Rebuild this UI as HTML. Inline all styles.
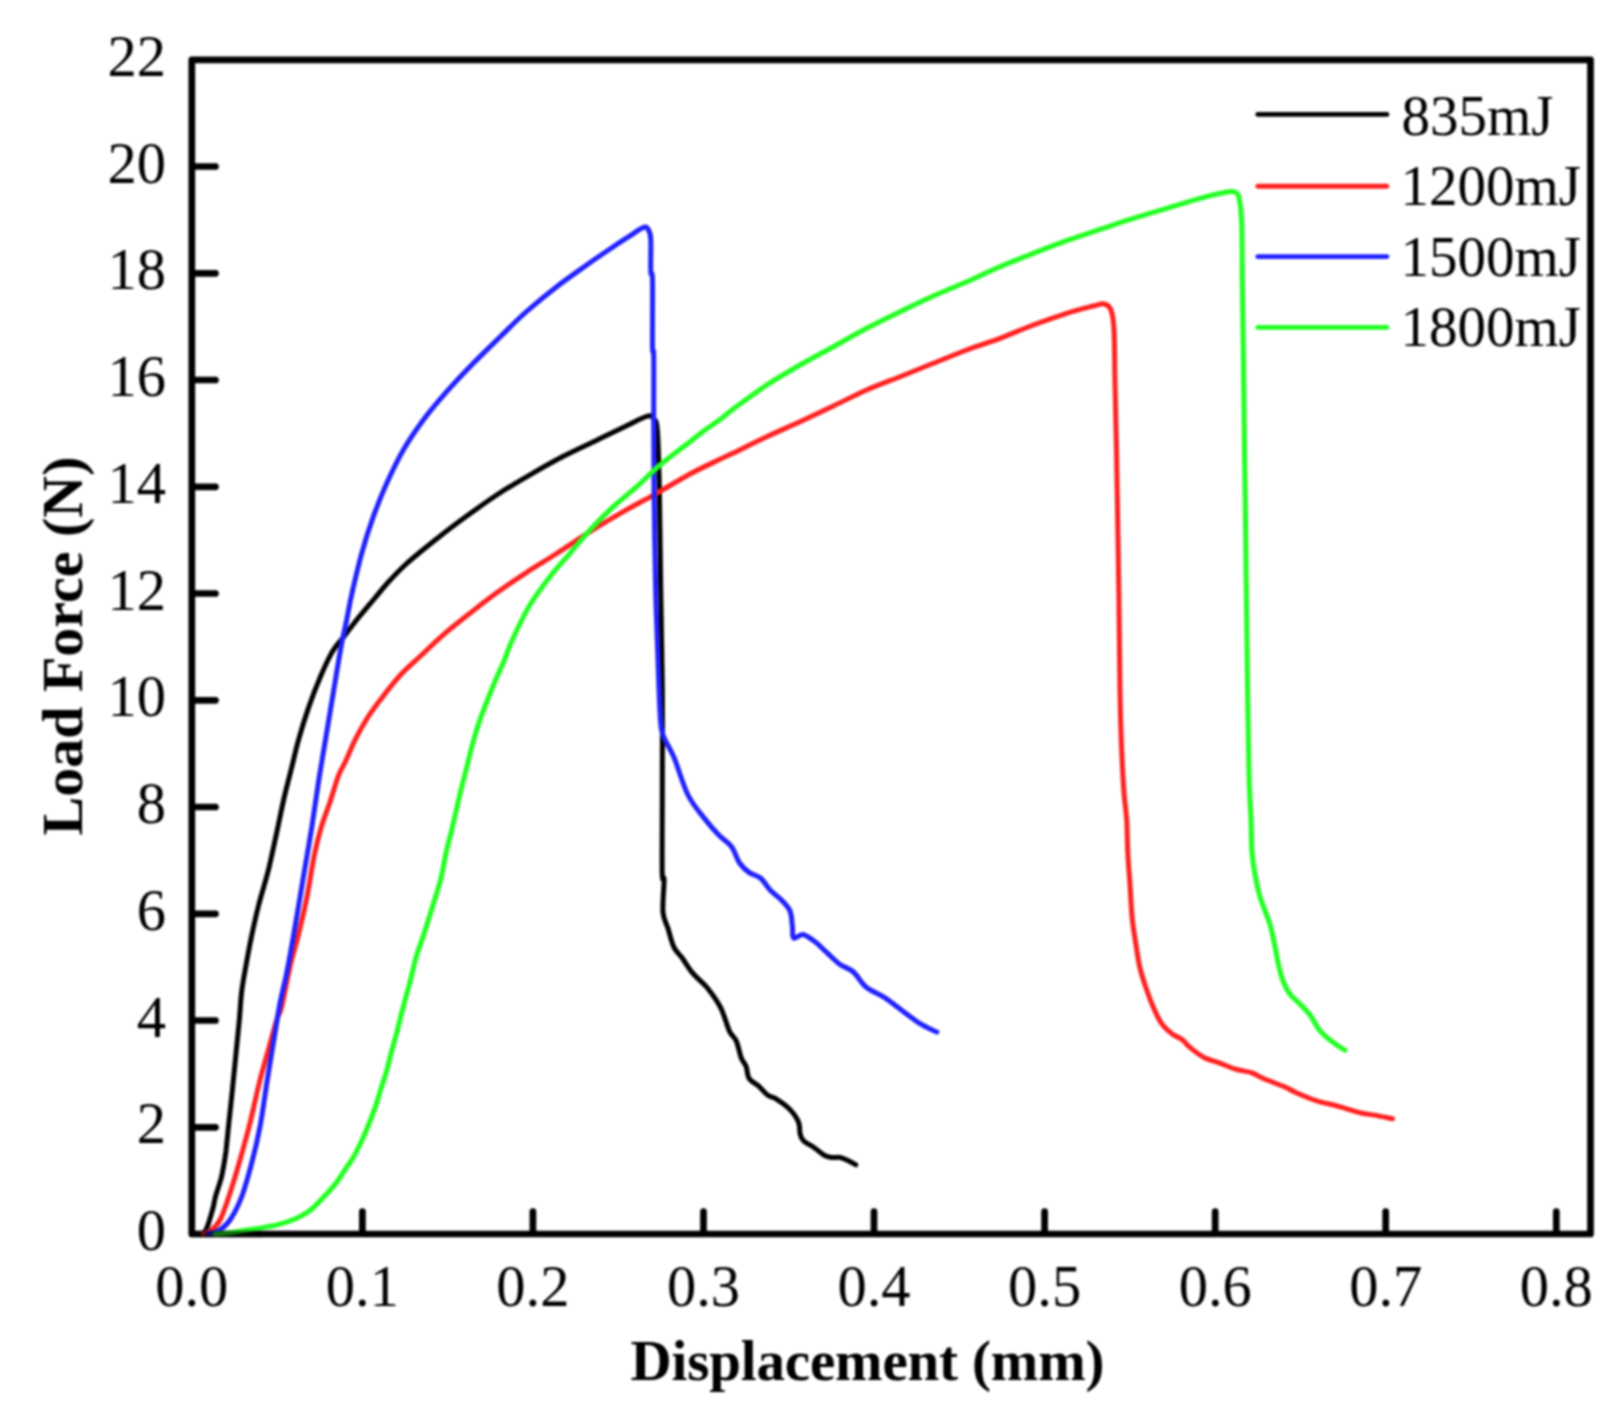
<!DOCTYPE html>
<html lang="en">
<head>
<meta charset="utf-8">
<title>Load Force vs Displacement</title>
<style>
html,body{margin:0;padding:0;background:#fff;}
body{width:1620px;height:1413px;overflow:hidden;}
svg{display:block;filter:blur(1.1px);}
</style>
</head>
<body>
<svg width="1620" height="1413" viewBox="0 0 1620 1413">
<rect width="1620" height="1413" fill="#fff"/>
<g stroke="#000" stroke-width="6.7" fill="none" stroke-linecap="round" stroke-linejoin="round">
<rect x="191.8" y="59.8" width="1398.7" height="1174.2"/>
<line x1="362.4" y1="1232.5" x2="362.4" y2="1211.5"/>
<line x1="532.9" y1="1232.5" x2="532.9" y2="1211.5"/>
<line x1="703.5" y1="1232.5" x2="703.5" y2="1211.5"/>
<line x1="874.0" y1="1232.5" x2="874.0" y2="1211.5"/>
<line x1="1044.6" y1="1232.5" x2="1044.6" y2="1211.5"/>
<line x1="1215.2" y1="1232.5" x2="1215.2" y2="1211.5"/>
<line x1="1385.7" y1="1232.5" x2="1385.7" y2="1211.5"/>
<line x1="1556.3" y1="1232.5" x2="1556.3" y2="1211.5"/>
<line x1="193.3" y1="1127.3" x2="215.5" y2="1127.3"/>
<line x1="193.3" y1="1020.5" x2="215.5" y2="1020.5"/>
<line x1="193.3" y1="913.8" x2="215.5" y2="913.8"/>
<line x1="193.3" y1="807.0" x2="215.5" y2="807.0"/>
<line x1="193.3" y1="700.3" x2="215.5" y2="700.3"/>
<line x1="193.3" y1="593.5" x2="215.5" y2="593.5"/>
<line x1="193.3" y1="486.8" x2="215.5" y2="486.8"/>
<line x1="193.3" y1="380.0" x2="215.5" y2="380.0"/>
<line x1="193.3" y1="273.3" x2="215.5" y2="273.3"/>
<line x1="193.3" y1="166.5" x2="215.5" y2="166.5"/>
</g>
<g fill="none" stroke-width="5.0" stroke-linecap="round" stroke-linejoin="round">
<path stroke="#000000" d="M203.0 1233.5C203.5 1232.8 205.1 1231.7 206.2 1229.4C207.3 1227.1 208.5 1223.1 209.7 1219.5C210.8 1215.9 212.2 1211.2 213.1 1207.7C214.0 1204.2 214.2 1201.7 215.0 1198.5C215.8 1195.3 216.9 1192.1 218.0 1188.5C219.1 1184.9 220.5 1181.1 221.5 1177.0C222.5 1172.9 223.2 1168.5 224.0 1164.0C224.8 1159.5 225.3 1156.5 226.1 1150.2C226.8 1143.9 227.5 1135.8 228.5 1126.2C229.5 1116.6 230.9 1104.1 232.1 1092.5C233.3 1080.9 234.5 1068.4 235.7 1056.4C236.9 1044.4 238.3 1031.1 239.3 1020.3C240.3 1009.5 240.5 1001.0 241.7 991.4C242.9 981.8 244.7 972.6 246.5 962.6C248.3 952.6 250.5 941.0 252.6 931.3C254.7 921.6 256.2 914.8 258.8 904.5C261.4 894.2 265.5 881.9 268.5 869.7C271.5 857.5 274.4 843.2 277.0 831.2C279.6 819.2 281.8 807.8 284.2 797.4C286.6 787.0 289.0 778.2 291.4 768.6C293.8 759.0 295.8 749.7 298.6 739.7C301.4 729.7 304.7 718.9 308.3 708.4C311.9 697.9 316.3 686.4 320.3 677.0C324.3 667.6 328.3 658.6 332.3 651.8C336.3 645.0 340.6 641.1 344.4 636.1C348.2 631.1 350.2 628.0 355.2 621.7C360.2 615.4 368.7 605.4 374.5 598.5C380.3 591.6 384.6 586.1 390.0 580.3C395.4 574.5 399.5 570.0 406.7 563.5C413.9 557.0 423.9 549.0 433.3 541.5C442.7 534.0 452.7 526.2 463.3 518.5C473.9 510.8 485.6 502.3 496.7 495.0C507.8 487.7 518.9 481.2 530.0 474.8C541.1 468.4 552.2 462.1 563.3 456.3C574.4 450.5 586.1 445.3 596.7 440.2C607.3 435.1 618.4 429.7 626.7 425.7C635.0 421.7 642.3 417.5 646.7 416.3C651.1 415.1 651.5 416.0 653.3 418.3C655.1 420.6 656.3 418.6 657.3 430.0C658.3 441.4 658.7 460.6 659.3 486.7C659.9 512.8 660.2 553.4 660.7 586.7C661.2 620.0 662.0 652.7 662.3 686.7C662.6 720.8 662.3 760.0 662.3 791.0C662.3 822.0 661.9 857.7 662.2 872.4C662.5 887.1 664.0 872.8 664.1 879.4C664.2 886.0 662.3 904.0 663.0 912.2C663.7 920.4 666.3 922.8 668.1 928.7C669.9 934.6 671.6 942.5 674.0 947.4C676.4 952.3 679.1 953.7 682.2 958.0C685.3 962.3 688.6 968.3 692.7 973.2C696.8 978.1 702.2 981.6 706.8 987.3C711.4 993.0 716.7 1000.1 720.5 1007.4C724.3 1014.7 726.8 1025.5 729.4 1031.1C732.0 1036.7 734.3 1036.5 736.3 1041.0C738.3 1045.5 739.6 1053.5 741.2 1057.8C742.9 1062.1 744.9 1063.2 746.2 1066.7C747.5 1070.2 747.0 1075.2 749.1 1078.5C751.2 1081.8 755.9 1083.6 759.0 1086.4C762.1 1089.2 764.9 1093.2 767.9 1095.3C770.9 1097.4 773.2 1097.0 776.8 1099.3C780.4 1101.6 786.0 1105.3 789.6 1109.1C793.2 1112.9 796.8 1117.9 798.5 1122.0C800.2 1126.1 799.3 1130.7 800.1 1133.8C800.9 1136.9 801.1 1138.4 803.5 1140.7C805.9 1143.0 810.8 1145.3 814.3 1147.7C817.8 1150.1 821.2 1153.6 824.2 1155.2C827.2 1156.8 829.5 1157.1 832.1 1157.5C834.7 1157.9 837.4 1157.0 840.0 1157.5C842.6 1158.0 845.3 1159.3 847.9 1160.5C850.5 1161.7 854.5 1164.1 855.8 1164.8"/>
<path stroke="#ff2020" d="M203.0 1233.5C204.2 1233.1 207.2 1233.2 210.0 1231.0C212.8 1228.8 216.7 1226.3 220.0 1220.0C223.3 1213.7 226.7 1203.0 230.0 1193.0C233.3 1183.0 236.7 1171.7 240.0 1160.0C243.3 1148.3 246.7 1136.3 250.0 1123.0C253.3 1109.7 256.9 1092.2 260.0 1080.0C263.1 1067.8 265.5 1060.0 268.3 1050.0C271.1 1040.0 274.5 1027.2 276.7 1020.0C278.9 1012.8 279.5 1015.6 281.7 1006.7C283.9 997.8 287.2 978.8 290.0 966.7C292.8 954.6 295.8 945.8 298.6 934.0C301.5 922.2 304.5 909.3 307.1 896.2C309.7 883.1 311.9 866.9 314.3 855.2C316.7 843.6 318.9 835.1 321.5 826.3C324.1 817.5 327.1 810.7 329.9 802.3C332.7 793.9 335.8 782.6 338.4 775.8C341.0 769.0 342.8 767.3 345.6 761.3C348.4 755.3 351.6 746.9 355.2 739.7C358.8 732.5 363.3 724.4 367.3 718.0C371.3 711.6 373.9 708.2 379.3 701.1C384.8 694.0 393.2 682.9 400.0 675.5C406.8 668.1 412.8 663.3 420.0 656.5C427.2 649.7 435.0 642.0 443.3 634.8C451.6 627.6 461.1 620.2 470.0 613.2C478.9 606.2 487.2 599.6 496.7 592.8C506.1 586.0 516.7 578.8 526.7 572.3C536.7 565.8 546.2 560.3 556.7 553.5C567.2 546.7 578.9 538.7 590.0 531.7C601.1 524.7 612.2 518.1 623.3 511.7C634.4 505.3 645.6 499.6 656.7 493.3C667.8 487.0 679.5 479.7 690.0 474.0C700.5 468.3 712.8 462.8 720.0 459.3C727.2 455.8 725.5 456.8 733.3 453.0C741.1 449.2 755.6 441.9 766.7 436.7C777.8 431.5 788.9 426.8 800.0 421.7C811.1 416.6 822.2 411.3 833.3 406.0C844.4 400.7 855.6 394.9 866.7 390.0C877.8 385.1 888.9 381.1 900.0 376.7C911.1 372.2 922.2 367.8 933.3 363.3C944.4 358.9 955.6 354.2 966.7 350.0C977.8 345.8 988.9 342.5 1000.0 338.3C1011.1 334.1 1022.2 329.2 1033.3 325.0C1044.4 320.8 1056.7 316.5 1066.7 313.3C1076.7 310.1 1087.1 307.6 1093.3 306.0C1099.5 304.4 1101.0 303.3 1104.0 304.0C1107.0 304.7 1109.3 305.7 1111.0 310.0C1112.7 314.3 1113.3 317.8 1114.0 330.0C1114.7 342.2 1114.6 363.3 1115.0 383.3C1115.4 403.3 1116.0 427.1 1116.5 450.0C1117.0 472.9 1117.3 496.6 1117.7 521.0C1118.1 545.4 1118.5 567.6 1118.9 596.2C1119.3 624.8 1119.6 668.4 1120.0 692.5C1120.4 716.6 1120.7 724.6 1121.3 740.6C1121.9 756.6 1122.8 775.5 1123.7 788.7C1124.6 801.9 1126.0 809.4 1126.7 820.0C1127.4 830.6 1127.2 841.6 1127.8 852.4C1128.3 863.2 1129.3 874.0 1130.0 884.8C1130.7 895.6 1131.2 907.8 1132.1 917.2C1133.0 926.6 1134.1 932.7 1135.4 941.0C1136.7 949.3 1137.9 959.0 1139.7 966.9C1141.5 974.8 1144.0 982.0 1146.2 988.5C1148.4 995.0 1150.2 1000.0 1152.7 1005.8C1155.2 1011.6 1158.1 1018.4 1161.3 1023.1C1164.5 1027.8 1168.7 1031.2 1172.1 1033.9C1175.5 1036.6 1178.7 1037.0 1181.8 1039.3C1184.9 1041.6 1186.7 1044.8 1190.5 1047.9C1194.3 1051.0 1199.7 1055.2 1204.5 1057.7C1209.3 1060.2 1214.2 1061.1 1219.6 1063.1C1225.0 1065.1 1231.5 1067.9 1236.9 1069.5C1242.3 1071.1 1247.7 1071.3 1252.0 1072.8C1256.3 1074.2 1257.4 1075.9 1262.8 1078.2C1268.2 1080.5 1279.0 1084.5 1284.4 1086.8C1289.8 1089.1 1289.8 1089.8 1295.2 1092.2C1300.6 1094.6 1309.7 1098.6 1316.9 1100.9C1324.1 1103.2 1331.3 1104.3 1338.5 1106.3C1345.7 1108.3 1353.6 1111.2 1360.1 1112.7C1366.6 1114.2 1371.9 1114.6 1377.3 1115.6C1382.7 1116.6 1390.0 1118.3 1392.5 1118.8"/>
<path stroke="#2020ff" d="M208.0 1233.5C209.7 1233.1 214.3 1233.2 218.0 1231.0C221.7 1228.8 226.1 1225.7 230.0 1220.0C233.9 1214.3 238.1 1206.2 241.7 1196.7C245.3 1187.2 248.6 1174.7 251.7 1163.0C254.8 1151.3 257.4 1140.5 260.0 1126.7C262.6 1112.9 264.8 1095.6 267.3 1080.0C269.8 1064.4 272.9 1045.8 275.0 1033.0C277.1 1020.2 278.1 1013.0 280.0 1003.0C281.9 993.0 284.4 984.5 286.7 973.0C289.0 961.5 291.0 950.0 293.8 934.0C296.6 918.0 300.4 894.9 303.4 876.9C306.4 858.9 309.3 842.8 311.9 826.3C314.5 809.8 316.7 793.5 319.1 778.2C321.5 763.0 323.9 749.2 326.3 734.8C328.7 720.3 331.1 705.9 333.5 691.5C335.9 677.1 338.6 660.2 340.8 648.2C343.0 636.2 345.0 628.3 346.8 619.3C348.6 610.3 349.3 605.0 351.8 594.0C354.3 583.0 358.1 566.2 361.7 553.3C365.3 540.4 369.1 528.4 373.3 516.7C377.5 505.0 381.7 494.4 386.7 483.3C391.7 472.2 397.2 460.6 403.3 450.0C409.4 439.4 416.1 429.7 423.3 420.0C430.5 410.3 438.4 401.1 446.7 391.7C455.0 382.2 464.4 372.4 473.3 363.3C482.2 354.2 491.2 345.6 500.0 337.0C508.8 328.4 516.5 320.4 526.0 312.0C535.5 303.6 546.6 294.5 556.7 286.7C566.8 278.9 577.3 271.7 586.7 265.0C596.1 258.3 606.1 251.6 613.3 246.7C620.5 241.8 625.5 238.7 630.0 235.8C634.5 232.9 637.4 230.7 640.0 229.2C642.6 227.7 644.3 226.6 645.8 227.0C647.3 227.4 648.4 229.5 649.2 231.7C650.0 233.9 650.5 233.3 650.8 240.0C651.1 246.7 650.5 265.0 650.8 271.7C651.1 278.4 652.2 267.5 652.5 280.0C652.8 292.5 652.3 334.2 652.5 346.7C652.7 359.2 653.5 343.6 653.7 355.0C653.9 366.4 653.7 393.1 653.7 415.0C653.8 436.9 653.7 458.1 654.0 486.7C654.3 515.3 655.0 558.9 655.6 586.7C656.2 614.5 657.1 632.4 657.8 653.3C658.5 674.2 659.2 698.5 660.0 712.0C660.8 725.5 660.3 726.4 662.6 734.0C664.9 741.6 669.8 747.2 674.0 757.4C678.2 767.6 682.9 784.8 688.0 795.0C693.1 805.2 699.3 811.8 704.4 818.4C709.5 825.0 714.0 830.1 718.5 834.8C723.0 839.5 727.9 841.9 731.4 846.6C734.9 851.3 736.7 858.7 739.6 863.0C742.5 867.3 745.5 869.9 749.0 872.4C752.5 874.9 757.2 875.3 760.7 878.2C764.2 881.1 766.6 886.3 770.1 890.0C773.6 893.7 778.6 897.0 781.9 900.5C785.2 904.0 788.2 906.7 790.0 911.0C791.8 915.3 791.8 921.8 792.4 926.3C793.0 930.8 791.8 936.6 793.6 938.0C795.4 939.4 799.5 933.9 803.0 934.5C806.5 935.1 810.8 938.7 814.7 941.6C818.6 944.5 822.3 948.4 826.4 952.1C830.5 955.8 834.8 960.6 839.3 963.9C843.8 967.2 848.9 968.1 853.4 972.0C857.9 975.9 861.0 983.0 866.3 987.3C871.6 991.6 879.0 993.9 885.1 997.9C891.2 1001.9 897.2 1007.0 903.2 1011.4C909.2 1015.8 915.4 1020.8 921.0 1024.2C926.6 1027.7 934.2 1030.8 936.8 1032.1"/>
<path stroke="#20ff20" d="M215.0 1234.0C217.8 1233.8 227.2 1233.1 232.0 1232.5C236.8 1231.9 238.7 1231.3 244.0 1230.5C249.3 1229.7 258.2 1228.4 264.0 1227.4C269.8 1226.4 273.9 1225.7 278.8 1224.4C283.7 1223.1 288.7 1221.6 293.6 1219.5C298.6 1217.4 303.7 1215.1 308.5 1211.6C313.3 1208.1 317.8 1203.2 322.3 1198.5C326.9 1193.8 332.0 1188.2 335.8 1183.4C339.6 1178.6 341.9 1174.3 344.9 1169.8C347.9 1165.3 351.2 1161.1 354.0 1156.2C356.8 1151.3 359.4 1145.7 361.9 1140.4C364.3 1135.1 366.4 1130.2 368.7 1124.5C371.0 1118.8 373.4 1112.4 375.5 1106.4C377.6 1100.4 379.2 1094.3 381.1 1088.3C383.0 1082.3 385.1 1076.2 386.8 1070.2C388.5 1064.2 389.6 1058.5 391.3 1052.1C393.0 1045.7 395.1 1038.9 397.0 1031.7C398.9 1024.5 400.5 1017.0 402.6 1009.1C404.7 1001.2 407.1 992.9 409.4 984.2C411.7 975.5 413.7 965.7 416.2 957.0C418.7 948.3 421.7 940.9 424.5 932.2C427.3 923.5 430.2 914.0 433.0 905.0C435.8 896.0 438.8 887.0 441.0 878.0C443.2 869.0 444.6 859.2 446.5 850.8C448.4 842.4 450.2 836.6 452.3 827.5C454.4 818.4 457.2 805.8 459.4 796.4C461.6 787.0 463.5 780.1 465.7 771.4C467.9 762.7 470.2 752.5 472.5 744.2C474.8 735.9 477.0 728.4 479.3 721.6C481.6 714.8 483.5 710.3 486.1 703.5C488.8 696.7 492.2 688.0 495.2 680.8C498.2 673.6 501.8 666.3 504.2 660.4C506.6 654.5 507.3 651.6 509.9 645.5C512.5 639.4 516.5 630.6 520.0 623.5C523.5 616.4 526.0 610.9 531.1 603.0C536.2 595.1 544.0 584.3 550.5 576.0C557.0 567.7 563.4 561.0 570.0 553.3C576.6 545.6 582.8 537.8 590.0 530.0C597.2 522.2 605.5 513.9 613.3 506.7C621.1 499.5 628.9 493.6 636.7 486.7C644.5 479.8 651.1 472.5 660.0 465.0C668.9 457.5 682.5 447.5 690.0 441.7C697.5 435.9 700.0 433.7 705.0 430.0C710.0 426.3 715.3 423.1 720.0 419.6C724.7 416.1 725.5 414.7 733.3 408.9C741.1 403.1 755.6 392.3 766.7 385.0C777.8 377.7 788.9 371.4 800.0 365.0C811.1 358.6 822.2 352.8 833.3 346.7C844.4 340.6 855.6 334.1 866.7 328.3C877.8 322.5 888.9 317.1 900.0 311.7C911.1 306.3 922.2 301.0 933.3 296.0C944.4 291.0 955.6 286.6 966.7 281.7C977.8 276.8 988.9 271.4 1000.0 266.7C1011.1 262.0 1022.2 257.6 1033.3 253.3C1044.4 249.0 1055.6 244.7 1066.7 240.7C1077.8 236.7 1088.9 233.0 1100.0 229.3C1111.1 225.6 1122.2 221.8 1133.3 218.3C1144.4 214.8 1155.6 211.6 1166.7 208.3C1177.8 205.0 1190.6 200.9 1200.0 198.3C1209.4 195.7 1217.8 193.8 1223.3 192.7C1228.8 191.6 1230.7 191.0 1233.3 191.7C1235.9 192.4 1237.4 191.7 1238.8 197.0C1240.2 202.3 1241.1 208.9 1241.7 223.3C1242.3 237.7 1242.0 262.2 1242.3 283.3C1242.6 304.4 1243.0 325.0 1243.3 350.0C1243.6 375.0 1244.0 408.3 1244.3 433.3C1244.6 458.3 1244.8 472.9 1245.2 500.0C1245.6 527.1 1246.0 564.1 1246.4 596.2C1246.8 628.3 1247.2 664.4 1247.6 692.5C1248.0 720.6 1248.4 746.6 1248.8 764.6C1249.2 782.6 1249.6 791.5 1250.0 800.7C1250.4 809.9 1250.7 811.4 1251.0 820.0C1251.3 828.6 1251.3 843.0 1252.0 852.4C1252.7 861.8 1254.0 869.0 1255.3 876.2C1256.6 883.4 1258.0 889.9 1259.6 895.6C1261.2 901.4 1263.2 905.7 1265.0 910.7C1266.8 915.8 1268.8 920.1 1270.4 925.9C1272.0 931.7 1273.3 938.5 1274.7 945.3C1276.1 952.1 1277.5 960.8 1279.0 966.9C1280.5 973.0 1281.6 977.5 1283.4 982.0C1285.2 986.5 1286.9 990.1 1289.8 993.9C1292.7 997.7 1297.2 1001.1 1300.6 1004.7C1304.0 1008.3 1307.3 1011.4 1310.4 1015.5C1313.5 1019.6 1316.1 1025.8 1319.0 1029.6C1321.9 1033.4 1324.8 1035.7 1327.7 1038.2C1330.6 1040.7 1333.4 1042.7 1336.3 1044.7C1339.2 1046.7 1343.5 1049.2 1344.9 1050.1"/>
</g>
<line x1="191.5" y1="1234.0" x2="262" y2="1234.0" stroke="#000" stroke-opacity="0.55" stroke-width="6.7"/>
<g stroke-width="4.9" fill="none" stroke-linecap="round">
<line x1="1257.8" y1="114.4" x2="1386.9" y2="114.4" stroke="#000000"/>
<line x1="1257.8" y1="186.3" x2="1386.9" y2="186.3" stroke="#ff2020"/>
<line x1="1257.8" y1="256.6" x2="1386.9" y2="256.6" stroke="#2020ff"/>
<line x1="1257.8" y1="327.4" x2="1386.9" y2="327.4" stroke="#20ff20"/>
</g>
<g font-family='"Liberation Serif", "Times New Roman", Times, serif' font-size="57" fill="#000">
<text x="1401.5" y="134.5">835mJ</text>
<text x="1400.5" y="205">1200mJ</text>
<text x="1400.5" y="276">1500mJ</text>
<text x="1400.5" y="346.4">1800mJ</text>
</g>
<g font-family='"Liberation Serif", "Times New Roman", Times, serif' font-size="58.5" fill="#000">
<text x="166" y="1250.0" text-anchor="end">0</text>
<text x="166" y="1143.3" text-anchor="end">2</text>
<text x="166" y="1036.5" text-anchor="end">4</text>
<text x="166" y="929.8" text-anchor="end">6</text>
<text x="166" y="823.0" text-anchor="end">8</text>
<text x="166" y="716.3" text-anchor="end">10</text>
<text x="166" y="609.5" text-anchor="end">12</text>
<text x="166" y="502.8" text-anchor="end">14</text>
<text x="166" y="396.0" text-anchor="end">16</text>
<text x="166" y="289.3" text-anchor="end">18</text>
<text x="166" y="182.5" text-anchor="end">20</text>
<text x="166" y="75.8" text-anchor="end">22</text>
<text x="191.8" y="1306" text-anchor="middle">0.0</text>
<text x="362.4" y="1306" text-anchor="middle">0.1</text>
<text x="532.9" y="1306" text-anchor="middle">0.2</text>
<text x="703.5" y="1306" text-anchor="middle">0.3</text>
<text x="874.0" y="1306" text-anchor="middle">0.4</text>
<text x="1044.6" y="1306" text-anchor="middle">0.5</text>
<text x="1215.2" y="1306" text-anchor="middle">0.6</text>
<text x="1385.7" y="1306" text-anchor="middle">0.7</text>
<text x="1556.3" y="1306" text-anchor="middle">0.8</text>
</g>
<g font-family='"Liberation Serif", "Times New Roman", Times, serif' font-size="57" font-weight="bold" fill="#000">
<text x="867.5" y="1380" text-anchor="middle" textLength="474" lengthAdjust="spacing">Displacement (mm)</text>
<text transform="translate(82.3,646) rotate(-90)" font-size="58" text-anchor="middle" textLength="379" lengthAdjust="spacing">Load Force (N)</text>
</g>
</svg>
</body>
</html>
